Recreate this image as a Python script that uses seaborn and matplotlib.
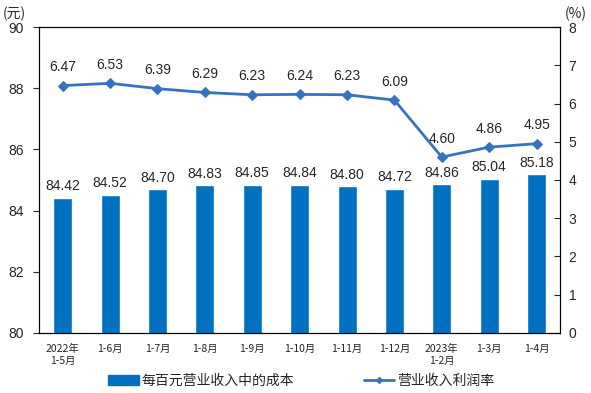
import matplotlib
matplotlib.use('Agg')
import matplotlib.pyplot as plt
import seaborn as sns
import pandas as pd
import numpy as np
from matplotlib.lines import Line2D
from matplotlib.patches import Patch

# data
months = ['2022年\n1-5月', '1-6月', '1-7月', '1-8月', '1-9月', '1-10月',
          '1-11月', '1-12月', '2023年\n1-2月', '1-3月', '1-4月']
cost = [84.42, 84.52, 84.70, 84.83, 84.85, 84.84, 84.80, 84.72, 84.86, 85.04, 85.18]
margin = [6.47, 6.53, 6.39, 6.29, 6.23, 6.24, 6.23, 6.09, 4.60, 4.86, 4.95]

sns.set_style('white')
plt.rcParams['font.family'] = ['Liberation Sans', 'Noto Sans CJK SC']

df = pd.DataFrame({'month': months, 'cost': cost, 'margin': margin})

fig = plt.figure(figsize=(5.91, 3.93), dpi=100)
ax = fig.add_axes([0.066, 0.153, 0.882, 0.778])

bar_color = '#0070C0'
line_color = '#3473BE'

sns.barplot(data=df, x='month', y='cost', color=bar_color, width=0.4,
            saturation=1, ax=ax)
ax.set_ylim(80, 90)
ax.set_yticks([80, 82, 84, 86, 88, 90])
ax.set_xlim(-0.5, len(months) - 0.5)
ax.set_xlabel(None)
ax.set_ylabel(None)

for i, v in enumerate(cost):
    ax.text(i, v + 0.15, f'{v:.2f}', ha='center', va='bottom', fontsize=10)

ax2 = ax.twinx()
x = np.arange(len(months))
sns.lineplot(x=x, y=margin, ax=ax2, color=line_color, marker='D',
             markersize=5, linewidth=2, markeredgecolor=line_color)
ax2.set_ylim(0, 8)
ax2.set_yticks(range(0, 9))
for i, v in enumerate(margin):
    ax2.text(i, v + 0.3, f'{v:.2f}', ha='center', va='bottom', fontsize=10)

for a in (ax, ax2):
    for s in a.spines.values():
        s.set_color('black')
        s.set_linewidth(0.8)

ax.tick_params(axis='y', direction='out', length=4, labelsize=10, pad=7)
ax2.tick_params(axis='y', direction='in', length=4, labelsize=10, pad=6)

# category ticks between bars
ax.set_xticks(np.arange(len(months)))
ax.set_xticklabels(months, fontsize=7.5, family=['Noto Sans CJK SC'])
ax.tick_params(axis='x', length=0, pad=8)
ax.set_xticks(np.arange(-0.5, len(months)), minor=True)
ax.tick_params(axis='x', which='minor', direction='in', length=3, color='black')

fig.text(0.005, 0.965, '(元)', fontsize=10, family=['Noto Sans CJK SC'], va='center')
fig.text(0.955, 0.965, '(%)', fontsize=10, family=['Noto Sans CJK SC'], va='center')

handles = [Patch(color=bar_color, label='每百元营业收入中的成本'),
           Line2D([0], [0], color=line_color, marker='D', markersize=3,
                  linewidth=2, label='营业收入利润率')]
fig.legend(handles=handles, loc='center', bbox_to_anchor=(0.51, 0.03), ncol=2,
           frameon=False, handlelength=2.2, columnspacing=5,
           handletextpad=0.2, prop={'family': ['Noto Sans CJK SC'], 'size': 10})

fig.savefig('out.png', dpi=100)
